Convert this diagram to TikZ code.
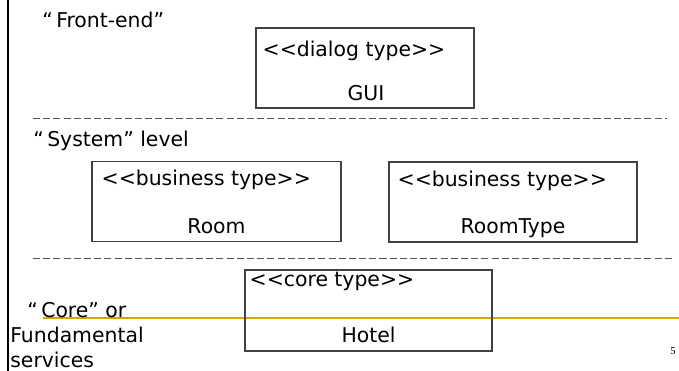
\documentclass[tikz,border=0pt]{standalone}
\usepackage{fontspec}
\setmainfont{DejaVu Sans}
\newfontfamily\numfont{Liberation Serif}
\usetikzlibrary{positioning,calc}
\definecolor{boxgray}{HTML}{404040}
\definecolor{dashgray}{HTML}{555555}
\definecolor{slidegold}{HTML}{D9A300}
\newcommand{\stype}[1]{<{}<#1>{}>}

\begin{document}
\begin{tikzpicture}[x=0.02cm,y=-0.02cm,
  every node/.style={font=\fontsize{11.6}{14}\selectfont,inner sep=0pt},
  typebox/.style={draw=boxgray,line width=0.75pt,minimum height=1.6cm},
  stereo/.style={anchor=base west},
  tname/.style={anchor=base},
  layer/.style={dashgray,line width=0.5pt,dash pattern=on 4pt off 1.8pt}]
\useasboundingbox (0,0) rectangle (679,371);
% slide frame
\draw[line width=1.2pt] (8,0) -- (8,371);
\draw[slidegold,line width=0.9pt] (43,318) -- (679,318);
% layers
\draw[layer] (33,118) -- (667,118);
\draw[layer] (33,258) -- (673,258);
% front-end
\node[anchor=base west] (frontend) at (42,28) {“\,Front-end”};
\node[typebox,minimum width=4.36cm] (gui) at (365,68) {};
\node[stereo] (guist) at ($(gui.north west)+(7,29)$) {\stype{dialog type}};
\node[tname] (guiname) at ($(gui.south)+(1,-8)$) {GUI};
% system level
\node[anchor=base west] (system) at (33,147) {“\,System” level};
\node[typebox,minimum width=4.98cm] (room) at (216.5,201.5) {};
\node[stereo] (roomst) at ($(room.north west)+(10,25)$) {\stype{business type}};
\node[tname] (roomname) at ($(room.south)+(0,-9)$) {Room};
\node[typebox,minimum width=4.96cm] (rtype) at (513,202) {};
\node[stereo] (rtypest) at ($(rtype.north west)+(9,25)$) {\stype{business type}};
\node[tname] (rtypename) at ($(rtype.south)+(0,-9)$) {RoomType};
% core
\node[anchor=base west] (corelbl) at (27,317) {“\,Core” or};
\node[anchor=base west] (fundlbl) at (10,342) {Fundamental};
\node[anchor=base west] (servlbl) at (10,367) {services};
\node[typebox,minimum width=4.94cm,minimum height=1.62cm] (hotel) at (368.5,310.5) {};
\node[stereo] (hotelst) at ($(hotel.north west)+(5,17)$) {\stype{core type}};
\node[tname] (hotelname) at ($(hotel.south)+(0,-9)$) {Hotel};
\node[font=\fontsize{6}{7}\selectfont\numfont] (pagenum) at (673,351) {5};
\end{tikzpicture}
\end{document}
